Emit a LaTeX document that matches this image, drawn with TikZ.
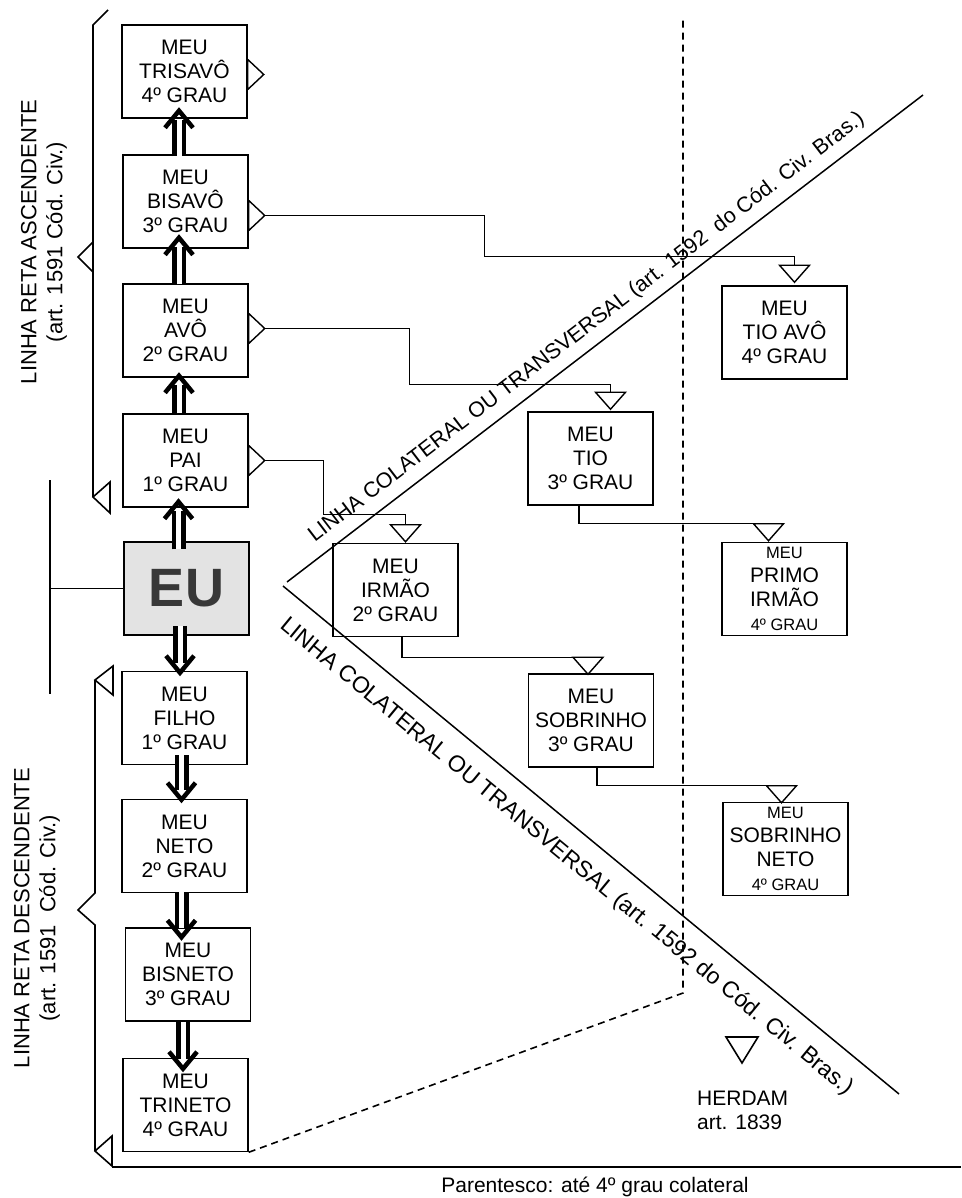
\documentclass[tikz,border=0pt]{standalone}
\usepackage{fontspec}
\setmainfont{Liberation Sans}
\usetikzlibrary{arrows.meta}

\definecolor{cinzaeu}{HTML}{E3E3E3}
\definecolor{letraeu}{HTML}{383838}

\newcommand{\fcaixa}{\fontsize{21}{24}\selectfont}
\newcommand{\fpeq}{\fontsize{16.5}{24}\selectfont}
\newcommand{\flado}{\fontsize{22}{26}\selectfont}
\newcommand{\fdiaga}{\fontsize{21.5}{24}\selectfont}
\newcommand{\fdiagb}{\fontsize{23}{26}\selectfont}

% seta dupla: #1 inicio, #2 ponta (coordenada), #3 recuo da asa (-17 sobe, 17 desce)
\newcommand{\setadupla}[3]{%
  \draw[dupla] (#1) -- ([yshift=#3*0.55pt]#2);
  \draw[ponta] ([xshift=-14pt,yshift=#3pt]#2) -- (#2) -- ([xshift=14pt,yshift=#3pt]#2);}

\tikzset{
  caixa/.style={draw, line width=1.5pt, minimum width=125pt, minimum height=93pt,
    inner sep=0pt, align=center, font=\fcaixa},
  caixaeu/.style={caixa, fill=cinzaeu, text=letraeu, font=\fontsize{54}{54}\selectfont\bfseries},
  liga/.style={line width=1.2pt},
  tri/.style={line width=1.4pt, fill=white},
  dupla/.style={double, double distance=5pt, line width=4.5pt},
  ponta/.style={line width=4.5pt, line join=miter, miter limit=10},
  chave/.style={line width=1.6pt},
  diag/.style={line width=1.5pt},
  tracejado/.style={line width=1.6pt, dash pattern=on 7pt off 5pt},
}

\begin{document}
\begin{tikzpicture}[x=1pt, y=-1pt]

\useasboundingbox (0,0) rectangle (961,1198);

% linha reta ascendente
\node[caixa] (trisavo) at (184.5,71.5) {MEU\\TRISAVÔ\\4º GRAU};
\node[caixa] (bisavo) at (185.5,201.5) {MEU\\BISAVÔ\\3º GRAU};
\node[caixa] (avo) at (185.5,330.5) {MEU\\AVÔ\\2º GRAU};
\node[caixa] (pai) at (185.5,460.5) {MEU\\PAI\\1º GRAU};
\node[caixaeu] (eu) at (186.5,588.5) {EU};

% linha reta descendente
\node[caixa] (filho) at (184.5,718) {MEU\\FILHO\\1º GRAU};
\node[caixa] (neto) at (184.5,846) {MEU\\NETO\\2º GRAU};
\node[caixa] (bisneto) at (188,974.5) {MEU\\BISNETO\\3º GRAU};
\node[caixa] (trineto) at (185.5,1105) {MEU\\TRINETO\\4º GRAU};

% linha colateral
\node[caixa] (irmao) at (395.5,590) {MEU\\IRMÃO\\2º GRAU};
\node[caixa] (tio) at (590.5,458.5) {MEU\\TIO\\3º GRAU};
\node[caixa] (sobrinho) at (591,720.5) {MEU\\SOBRINHO\\3º GRAU};
\node[caixa] (tioavo) at (784.5,332.5) {MEU\\TIO AVÔ\\4º GRAU};
\node[caixa] (primo) at (784.5,589) {{\fpeq MEU}\\PRIMO\\IRMÃO\\{\fpeq 4º GRAU}};
\node[caixa] (sobneto) at (785.5,849) {{\fpeq MEU}\\SOBRINHO\\NETO\\{\fpeq 4º GRAU}};

% setas duplas
\path ([xshift=-5.5pt,yshift=8pt]trisavo.south) coordinate (s1);
\path ([xshift=-6.5pt,yshift=11pt]bisavo.south) coordinate (s2);
\path ([xshift=-6.5pt,yshift=2pt]avo.south) coordinate (s3);
\path ([xshift=-7pt,yshift=6pt]pai.south) coordinate (s4);
\path ([xshift=-4.5pt,yshift=-2pt]filho.north) coordinate (s5);
\path ([xshift=-3pt,yshift=-1pt]neto.north) coordinate (s6);
\path ([xshift=-6.5pt,yshift=-10pt]bisneto.north) coordinate (s7);
\path ([xshift=-2.5pt,yshift=-11pt]trineto.north) coordinate (s8);

\setadupla{[xshift=-6.5pt,yshift=-2pt]bisavo.north}{s1}{-17}
\setadupla{[xshift=-6.5pt,yshift=-1pt]avo.north}{s2}{-17}
\setadupla{[xshift=-6.5pt]pai.north}{s3}{-17}
\setadupla{[xshift=-8pt,yshift=-8pt]eu.north}{s4}{-17}
\setadupla{[xshift=-6.5pt,yshift=10pt]eu.south}{s5}{17}
\setadupla{[xshift=-3pt,yshift=10pt]filho.south}{s6}{17}
\setadupla{[xshift=-3pt,yshift=1pt]neto.south}{s7}{17}
\setadupla{[xshift=-5pt]bisneto.south}{s8}{17}

% triangulos a direita
\path ([xshift=16pt,yshift=-3pt]trisavo.east) coordinate (ptrisavo);
\path ([xshift=16pt,yshift=-14pt]bisavo.east) coordinate (pbisavo);
\path ([xshift=16pt,yshift=2pt]avo.east) coordinate (pavo);
\path ([xshift=16pt]pai.east) coordinate (ppai);
\foreach \no in {ptrisavo,pbisavo,pavo,ppai}
  \draw[tri] (\no) -- ++(-16,-15) -- ++(0,30) -- cycle;

% triangulos de cima
\path ([xshift=10pt,yshift=20pt]tioavo.north) coordinate (ttioavo);
\path ([xshift=20pt,yshift=19pt]tio.north) coordinate (ttio);
\path ([xshift=10pt,yshift=18pt]irmao.north) coordinate (tirmao);
\path ([xshift=-3pt,yshift=16pt]sobrinho.north) coordinate (tsobrinho);
\path ([xshift=-16pt,yshift=18pt]primo.north) coordinate (tprimo);
\path ([xshift=-4pt,yshift=16pt]sobneto.north) coordinate (tsobneto);

% ligacoes
\draw[liga] (pbisavo) -| ++(220,41) -| (ttioavo);
\draw[liga] (pavo) -| ++(145,56) -| (ttio);
\draw[liga] (ppai) -| ++(59,54) -| (tirmao);
\draw[liga] ([xshift=-11.5pt]tio.south) |- (tprimo);
\draw[liga] ([xshift=6.5pt]irmao.south) |- (tsobrinho);
\draw[liga] ([xshift=6pt]sobrinho.south) |- (tsobneto);

\foreach \no in {ttioavo,ttio,tirmao,tsobrinho,tprimo,tsobneto}
  \draw[tri] ([xshift=-15pt]\no) -- ([xshift=15pt]\no) -- ([yshift=-17pt]\no) -- cycle;

% chave ascendente
\draw[chave] (108,10) -- (93,25) -- (93,497);
\draw[chave] (93,242) -- (78,257) -- (93,272);
\draw[chave] (93,497) -- (110,482) -- (110,513) -- cycle;

% chave descendente
\draw[chave] (95,680) -- (95,893) -- (78,910) -- (95,925) -- (95,1151);
\draw[chave] (95,680) -- (113,666) -- (113,695) -- cycle;
\draw[chave] (95,1151) -- (112,1136) -- (112,1166) -- cycle;
\draw[line width=2pt] (112,1167) -- (961,1167);

% eu
\coordinate (eixo) at (50,480);
\draw[liga] (eixo) -- ++(0,214);
\draw[liga] (eu.west) -- (eu.west -| eixo);

% limite do 4o grau
\coordinate (quebra) at (683,993);
\coordinate (topo) at (683,20);
\draw[tracejado] (trineto.south east) -- (quebra) -- (topo);

% linhas colaterais
\coordinate (vsup) at (287,582);
\coordinate (vinf) at (283,586);
\draw[diag] (vsup) -- (923,95) node[pos=0.49, sloped, above=9pt, inner sep=0pt, font=\fdiaga]
  {LINHA COLATERAL OU TRANSVERSAL (art. 1592\ \ do Cód. Civ. Bras.)};
\draw[diag] (vinf) -- (899,1094) node[pos=0.49, sloped, below=17pt, inner sep=0pt, font=\fdiagb]
  {LINHA COLATERAL OU TRANSVERSAL (art. 1592 do Cód. Civ. Bras.)};

% textos laterais
\node[rotate=90, align=center, font=\flado] (asc) at (44,242)
  {LINHA RETA ASCENDENTE\\(art. 1591 Cód. Civ.)};
\node[rotate=90, align=center, font=\flado] (desc) at (37,918)
  {LINHA RETA DESCENDENTE\\(art. 1591\ \ Cód. Civ.)};

% herdam
\draw[tri, line width=1.6pt] (726,1037) -- (758,1037) -- (742,1063) -- cycle;
\node[anchor=north west, align=left, font=\fcaixa, inner sep=0pt] (herdam) at (697,1091)
  {HERDAM\\art. 1839};

\node[anchor=base, font=\fcaixa] (parentesco) at (595,1192) {Parentesco: até 4º grau colateral};

\end{tikzpicture}
\end{document}
